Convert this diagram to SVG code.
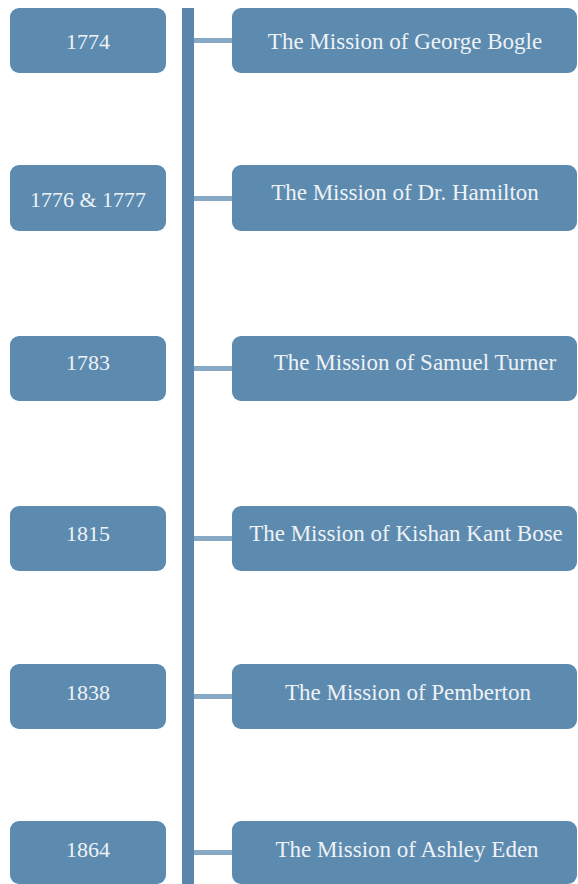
<svg xmlns="http://www.w3.org/2000/svg" width="578" height="884" viewBox="0 0 578 884">
<style>
.box{fill:#5d8aaf;}
.t{font-family:"Liberation Serif","Times New Roman",serif;font-size:22px;fill:#eef2f6;text-anchor:middle;}
.r{font-size:23px;}
.bar{fill:#5a86ab;}
.con{fill:#88a9c6;}
</style>
<rect width="578" height="884" fill="#ffffff"/>
<g id="connectors">
<rect class="bar" x="182" y="8" width="12" height="876"/>
<rect class="con" x="194" y="38" width="38" height="5"/>
<rect class="con" x="194" y="196" width="38" height="5"/>
<rect class="con" x="194" y="366" width="38" height="5"/>
<rect class="con" x="194" y="536" width="38" height="5"/>
<rect class="con" x="194" y="694" width="38" height="5"/>
<rect class="con" x="194" y="850" width="38" height="5"/>
</g>
<g id="y1774"><rect class="box" x="10" y="8" width="156" height="65" rx="9"/><text class="t" x="88" y="49">1774</text></g>
<g id="m1774"><rect class="box" x="232" y="8" width="345" height="65" rx="9"/><text class="t r" x="405" y="49">The Mission of George Bogle</text></g>
<g id="y1776"><rect class="box" x="10" y="165" width="156" height="66" rx="9"/><text class="t" x="88" y="207">1776 &amp; 1777</text></g>
<g id="m1776"><rect class="box" x="232" y="165" width="345" height="66" rx="9"/><text class="t r" x="405" y="200">The Mission of Dr. Hamilton</text></g>
<g id="y1783"><rect class="box" x="10" y="336" width="156" height="65" rx="9"/><text class="t" x="88" y="370">1783</text></g>
<g id="m1783"><rect class="box" x="232" y="336" width="345" height="65" rx="9"/><text class="t r" x="415" y="370">The Mission of Samuel Turner</text></g>
<g id="y1815"><rect class="box" x="10" y="506" width="156" height="65" rx="9"/><text class="t" x="88" y="541">1815</text></g>
<g id="m1815"><rect class="box" x="232" y="506" width="345" height="65" rx="9"/><text class="t r" x="406" y="541">The Mission of Kishan Kant Bose</text></g>
<g id="y1838"><rect class="box" x="10" y="664" width="156" height="65" rx="9"/><text class="t" x="88" y="700">1838</text></g>
<g id="m1838"><rect class="box" x="232" y="664" width="345" height="65" rx="9"/><text class="t r" x="408" y="700">The Mission of Pemberton</text></g>
<g id="y1864"><rect class="box" x="10" y="821" width="156" height="63" rx="9"/><text class="t" x="88" y="857">1864</text></g>
<g id="m1864"><rect class="box" x="232" y="821" width="345" height="63" rx="9"/><text class="t r" x="407" y="857">The Mission of Ashley Eden</text></g>
</svg>
